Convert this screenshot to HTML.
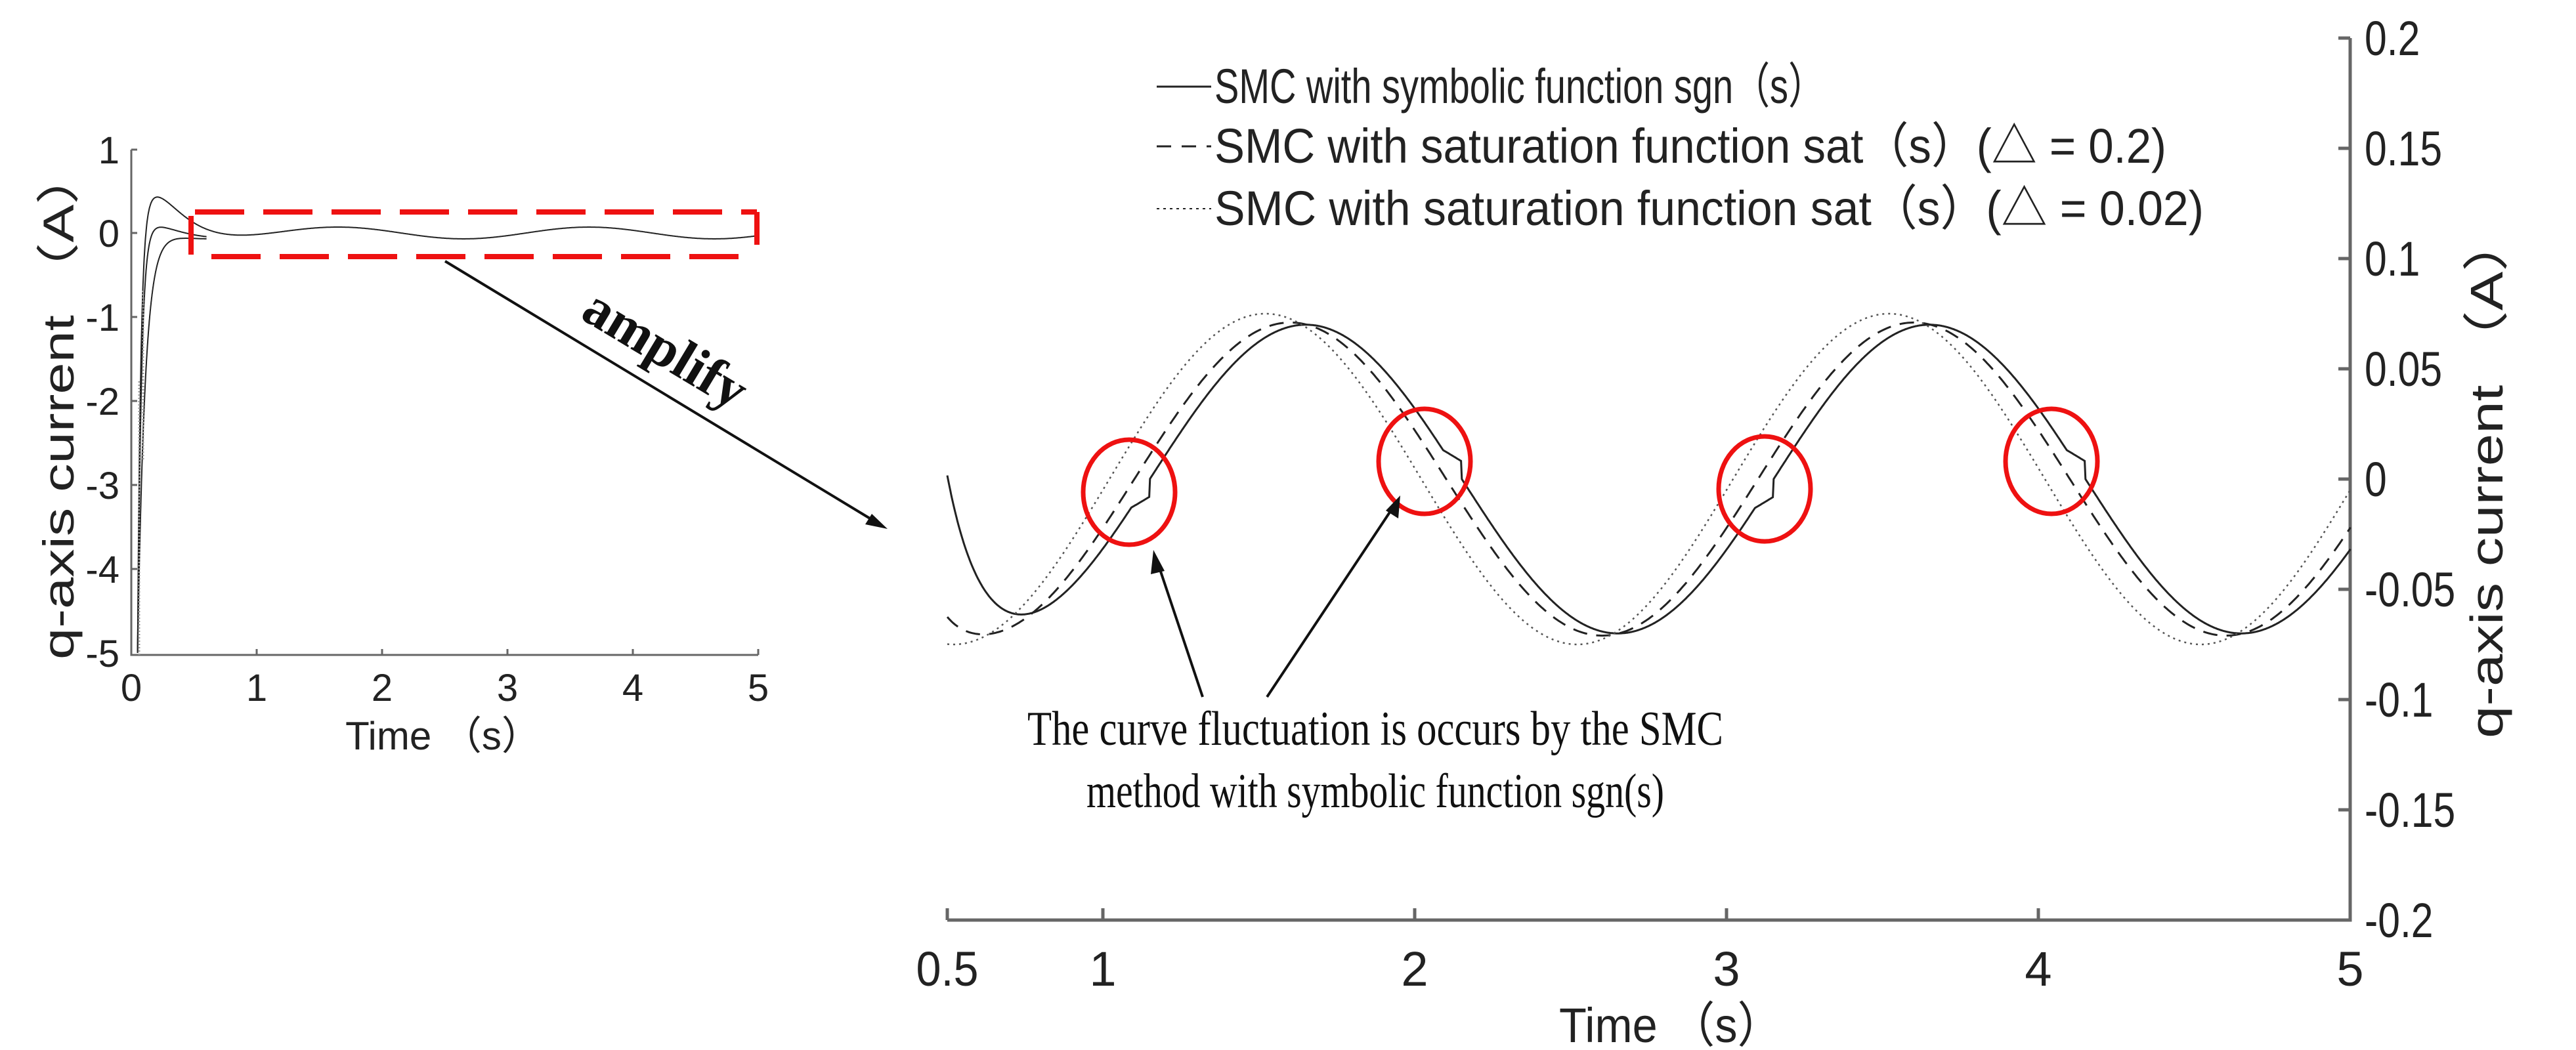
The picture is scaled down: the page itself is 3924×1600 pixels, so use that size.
<!DOCTYPE html>
<html><head><meta charset="utf-8"><style>
html,body{margin:0;padding:0;background:#fff;}
svg{display:block;}
.t{font-family:"Liberation Sans","Noto Sans CJK SC",sans-serif;fill:#222;}
.s{font-family:"Liberation Serif","Noto Serif CJK SC",serif;fill:#111;}
</style></head><body>
<svg id="sv" width="3924" height="1600" viewBox="0 0 3924 1600" xmlns="http://www.w3.org/2000/svg">
<g stroke="#666" stroke-width="3" fill="none">
<path d="M200 228 V998 H1155"/>
<path d="M391 998v-9 M582 998v-9 M773 998v-9 M964 998v-9 M1155 998v-9"/>
<path d="M200 228h9 M200 355h9 M200 483h9 M200 611h9 M200 739h9 M200 867h9"/>
</g>
<g class="t" font-size="58" text-anchor="end">
<text x="182" y="249">1</text><text x="182" y="376">0</text><text x="182" y="504">-1</text>
<text x="182" y="632">-2</text><text x="182" y="760">-3</text><text x="182" y="888">-4</text><text x="182" y="1016">-5</text>
</g>
<g class="t" font-size="58" text-anchor="middle">
<text x="200" y="1068">0</text><text x="391" y="1068">1</text><text x="582" y="1068">2</text>
<text x="773" y="1068">3</text><text x="964" y="1068">4</text><text x="1155" y="1068">5</text>
<text x="675" y="1142" font-size="60">Time （s）</text>
<text transform="translate(112,615) rotate(-90)" font-size="66" textLength="780" lengthAdjust="spacingAndGlyphs">q-axis current （A）</text>
</g>
<g id="leftc" fill="none" stroke="#222" stroke-width="2"></g>
<g stroke="#ee1111" stroke-width="8" fill="none">
<path d="M297 323 H1153" stroke-dasharray="75 29"/>
<path d="M322 391 H1153" stroke-dasharray="75 29"/>
<path d="M291 329 V388 M1153 323 V373"/>
</g>
<line x1="678" y1="398" x2="1340" y2="799" stroke="#111" stroke-width="4"/>
<polygon points="1352,806 1318,799 1328,783" fill="#111"/>
<text class="s" font-size="84" font-weight="bold" transform="translate(1000,555) rotate(31)" text-anchor="middle">amplify</text>

<g stroke="#666" stroke-width="5" fill="none">
<path d="M1443 1402 H3580 V58"/>
<path d="M1443 1402v-18 M1680 1402v-18 M2155 1402v-18 M2630 1402v-18 M3105 1402v-18"/>
<path d="M3580 58h-18 M3580 226h-18 M3580 394h-18 M3580 562h-18 M3580 730h-18 M3580 898h-18 M3580 1066h-18 M3580 1234h-18"/>
</g>
<g class="t" font-size="74" transform="translate(3602,0) scale(0.82,1)">
<text x="0" y="84">0.2</text><text x="0" y="252">0.15</text><text x="0" y="420">0.1</text>
<text x="0" y="588">0.05</text><text x="0" y="756">0</text><text x="0" y="924">-0.05</text>
<text x="0" y="1092">-0.1</text><text x="0" y="1260">-0.15</text><text x="0" y="1428">-0.2</text>
</g>
<g class="t" font-size="74" text-anchor="middle">
<text x="1443" y="1502" textLength="95" lengthAdjust="spacingAndGlyphs">0.5</text><text x="1680" y="1502">1</text><text x="2155" y="1502">2</text>
<text x="2630" y="1502">3</text><text x="3105" y="1502">4</text><text x="3580" y="1502">5</text>
<text x="2545" y="1588" textLength="340" lengthAdjust="spacingAndGlyphs">Time （s）</text>
<text transform="translate(3812,725) rotate(-90)" font-size="70" textLength="800" lengthAdjust="spacingAndGlyphs">q-axis current （A）</text>
</g>
<g id="rightc" fill="none"></g>
<g stroke="#222" stroke-width="3">
<line x1="1762" y1="132" x2="1845" y2="132"/>
<line x1="1762" y1="223" x2="1845" y2="223" stroke-dasharray="22 16"/>
<line x1="1762" y1="318" x2="1845" y2="318" stroke-dasharray="4 6" stroke-width="2"/>
</g>
<g class="t" font-size="74">
<text x="1850" y="157" textLength="930" lengthAdjust="spacingAndGlyphs">SMC with symbolic function sgn（s）</text>
<text x="1850" y="248" textLength="1450" lengthAdjust="spacingAndGlyphs">SMC with saturation function sat（s）(△ = 0.2)</text>
<text x="1850" y="343" textLength="1507" lengthAdjust="spacingAndGlyphs">SMC with saturation function sat（s）(△ = 0.02)</text>
</g>
<g stroke="#ee1111" stroke-width="7" fill="none">
<ellipse cx="1720" cy="750" rx="70" ry="80"/>
<ellipse cx="2170" cy="703" rx="70" ry="80"/>
<ellipse cx="2688" cy="745" rx="70" ry="80"/>
<ellipse cx="3125" cy="703" rx="70" ry="80"/>
</g>
<g stroke="#111" stroke-width="4">
<line x1="1832" y1="1062" x2="1761" y2="850"/>
<line x1="1930" y1="1062" x2="2126" y2="767"/>
</g>
<polygon points="1757,838 1774,870 1753,875" fill="#111"/>
<polygon points="2133,755 2130,790 2111,778" fill="#111"/>
<g class="s" font-size="74" text-anchor="middle">
<text x="2095" y="1135" textLength="1060" lengthAdjust="spacingAndGlyphs">The curve fluctuation is occurs by the SMC</text>
<text x="2095" y="1230" textLength="880" lengthAdjust="spacingAndGlyphs">method with symbolic function sgn(s)</text>
</g>
</svg>
<script>
(function(){
var NS="http://www.w3.org/2000/svg";
function mk(g,d,attrs){var p=document.createElementNS(NS,"path");p.setAttribute("d",d);for(var k in attrs)p.setAttribute(k,attrs[k]);g.appendChild(p);}
function path(f,X,Y,t0,t1,n){var d="";for(var i=0;i<=n;i++){var t=t0+(t1-t0)*i/n;d+=(i?"L":"M")+X(t).toFixed(1)+" "+Y(f(t)).toFixed(1);}return d;}
var PI=Math.PI;
function sol(t){var v=0.07*Math.sin(PI*(t-1.15));
  var k=Math.round(t-1.15), tc=1.15+k, d=t-tc;
  if(d>-0.06&&d<0){ v+= (k%2===0?-1:1)*0.008*(1+d/0.06); }
  return v;}
function das(t){return 0.071*Math.sin(PI*(t-1.1));}
function dot(t){return 0.075*Math.sin(PI*(t-1.02));}
var RX=function(t){return 1443+(t-0.5)*475;}, RY=function(v){return 730-v*3360;};
var g=document.getElementById("rightc");
mk(g,path(function(t){return sol(t)+0.064*Math.exp(-(t-0.5)/0.1);},RX,RY,0.5,5,1800),{stroke:"#222","stroke-width":"3"});
mk(g,path(function(t){return das(t)+0.005*Math.exp(-(t-0.5)/0.05);},RX,RY,0.5,5,900),{stroke:"#222","stroke-width":"3","stroke-dasharray":"22 14"});
mk(g,path(dot,RX,RY,0.5,5,900),{stroke:"#555","stroke-width":"2.5","stroke-dasharray":"3 6"});
var LX=function(t){return 200+t*191;}, LY=function(v){return 355-v*128;};
var h=document.getElementById("leftc");
function st(t){return 0.07*Math.sin(PI*(t-1.15));}
function s1(t){var a=t-0.05;return st(t)-5.1*Math.exp(-a/0.025)+0.45*(a/0.15)*Math.exp(1-a/0.15);}
function s2(t){var a=t-0.05;return st(t)-5.1*Math.exp(-a/0.03)+0.1*(a/0.15)*Math.exp(1-a/0.15);}
function s3(t){var a=t-0.05;return st(t)-5*Math.exp(-a/0.06);}
function cl(f){return function(t){return Math.max(-5,f(t));};}
mk(h,path(cl(s1),LX,LY,0.05,5,1500),{});
mk(h,path(cl(s2),LX,LY,0.05,0.6,300),{});
mk(h,path(cl(s3),LX,LY,0.05,0.6,300),{});
mk(h,"M212 998 V580",{stroke:"#999","stroke-dasharray":"2 3","stroke-width":"3"});
mk(h,"M218 700 V440",{stroke:"#999","stroke-dasharray":"2 3","stroke-width":"3"});
})();
</script>
</body></html>
